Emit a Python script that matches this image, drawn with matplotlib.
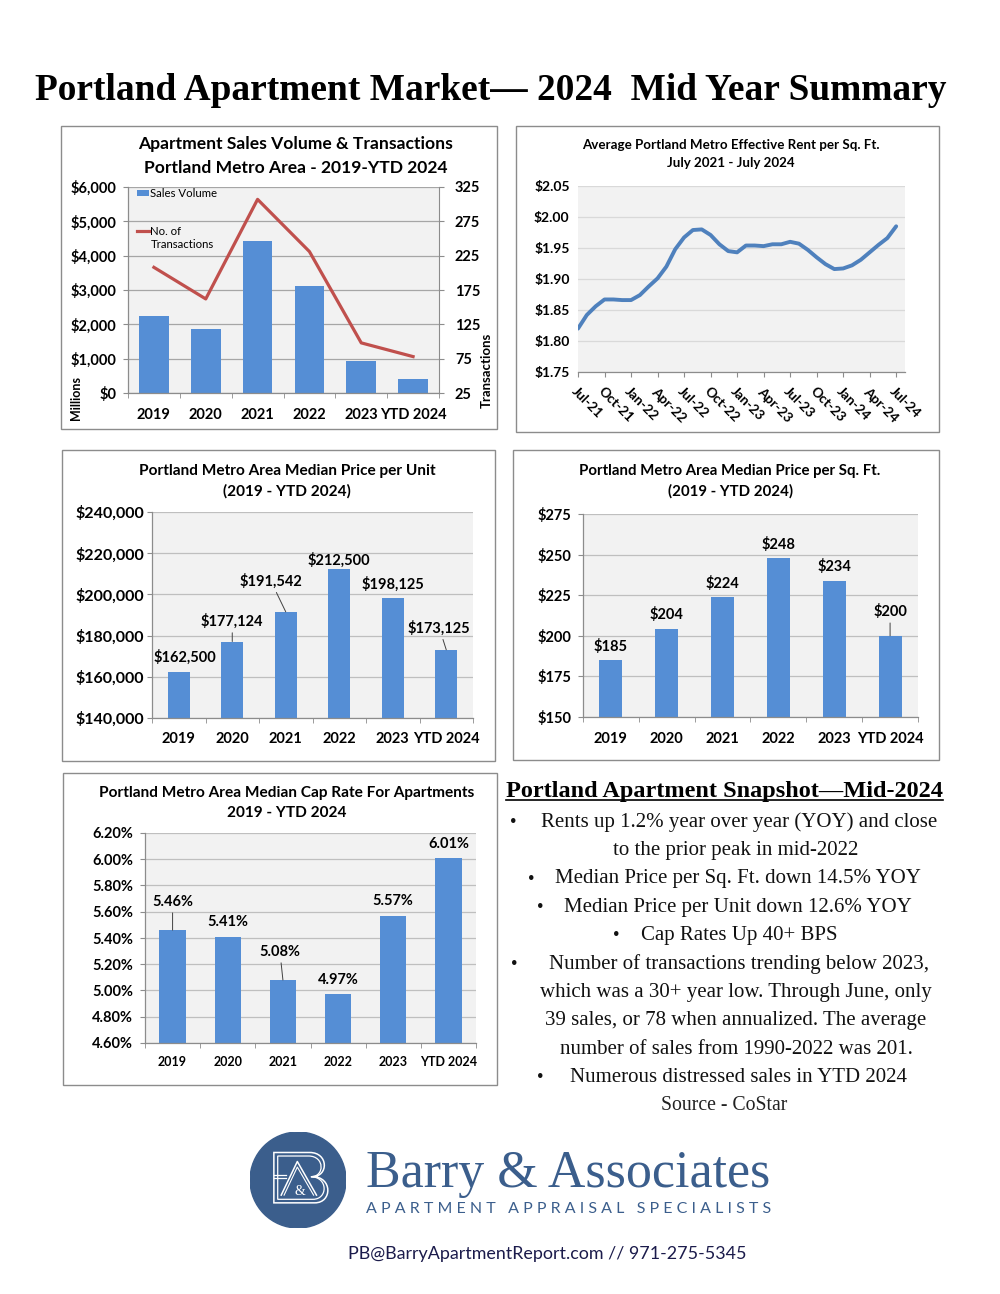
import numpy as np
import matplotlib
matplotlib.use('Agg')
import matplotlib.pyplot as plt
from matplotlib.patches import Rectangle, Circle, PathPatch
from matplotlib.path import Path
from matplotlib.lines import Line2D
from matplotlib.ticker import FuncFormatter
import matplotlib.transforms as mtransforms

# ---------------- data ----------------
years = ['2019', '2020', '2021', '2022', '2023', 'YTD 2024']
sales_volume_millions = [2250, 1855, 4420, 3125, 945, 400]
transactions = [208, 162, 307, 231, 98, 78]

rent_tick_labels = ['Jul-21', 'Oct-21', 'Jan-22', 'Apr-22', 'Jul-22', 'Oct-22', 'Jan-23',
                    'Apr-23', 'Jul-23', 'Oct-23', 'Jan-24', 'Apr-24', 'Jul-24']
rent_per_sqft = [1.820, 1.842, 1.856, 1.867, 1.867, 1.866, 1.866, 1.874, 1.888, 1.901,
                 1.920, 1.948, 1.967, 1.979, 1.980, 1.971, 1.956, 1.945, 1.943, 1.954,
                 1.954, 1.953, 1.956, 1.956, 1.960, 1.957, 1.947, 1.935, 1.924, 1.916,
                 1.917, 1.922, 1.931, 1.943, 1.955, 1.966, 1.985]

price_per_unit = [162500, 177124, 191542, 212500, 198125, 173125]
price_per_sqft = [185, 204, 224, 248, 234, 200]
cap_rate = [5.46, 5.41, 5.08, 4.97, 5.57, 6.01]

snapshot_lines = [
    (True, "Rents up 1.2% year over year (YOY) and close"),
    (False, "to the prior peak in mid-2022"),
    (True, "Median Price per Sq. Ft. down 14.5% YOY"),
    (True, "Median Price per Unit down 12.6% YOY"),
    (True, "Cap Rates Up 40+ BPS"),
    (True, "Number of transactions trending below 2023,"),
    (False, "which was a 30+ year low. Through June, only"),
    (False, "39 sales, or 78 when annualized. The average"),
    (False, "number of sales from 1990-2022 was 201."),
    (True, "Numerous distressed sales in YTD 2024"),
]

# ---------------- setup ----------------
W, H = 1000, 1294
fig = plt.figure(figsize=(W / 100, H / 100), dpi=100)
fig.patch.set_facecolor('white')
SANS = ['Lato', 'DejaVu Sans']
SERIF = ['Liberation Serif', 'DejaVu Serif']
plt.rcParams['font.family'] = SANS

AXC = '#8c8c8c'
BG = '#f2f2f2'
BLUE = '#558ed5'
RED = '#c0504d'
LBLUE = '#4f81bd'
NAVY = '#3b5e8c'
PX = 100 / 72.0


def rect(x0, y0, x1, y1):
    return [x0 / W, 1 - y1 / H, (x1 - x0) / W, (y1 - y0) / H]


def ftext(x, y, s, **kw):
    return fig.text(x / W, 1 - y / H, s, **kw)


renderer = fig.canvas.get_renderer()


def fit(t, target):
    w = t.get_window_extent(renderer).width
    t.set_fontsize(t.get_fontsize() * target / w)
    return t.get_fontsize()


# panel frames
for (x0, y0, x1, y1) in [(61, 126, 497, 429), (516, 126, 939, 432), (62, 450, 495, 761),
                         (513, 450, 939, 760), (63, 773, 497, 1085)]:
    fig.add_artist(Rectangle((x0 / W, 1 - y1 / H), (x1 - x0) / W, (y1 - y0) / H,
                             transform=fig.transFigure, fill=False, edgecolor=AXC, lw=1.0))


def base_ax(r, grid='#bfbfbf'):
    ax = fig.add_axes(r)
    ax.set_facecolor(BG)
    for s in ['top', 'right']:
        ax.spines[s].set_visible(False)
    for s in ['left', 'bottom']:
        ax.spines[s].set_color(AXC)
        ax.spines[s].set_linewidth(0.9)
    ax.set_axisbelow(True)
    ax.yaxis.grid(True, color=grid, lw=0.9)
    ax.tick_params(axis='y', length=3.5, color=AXC, pad=2)
    return ax


def cat_axis(ax, n, labels, fs, pad):
    ax.set_xlim(-0.5, n - 0.5)
    ax.set_xticks(range(n))
    ax.set_xticklabels(labels, fontsize=fs, fontweight='bold')
    ax.tick_params(axis='x', which='major', length=0, pad=pad)
    ax.set_xticks(np.arange(-0.5, n), minor=True)
    ax.tick_params(axis='x', which='minor', length=3.6, direction='out', color=AXC)


def chart_title(cx, y1, y2, l1, l2, w1):
    t1 = ftext(cx, y1, l1, ha='center', va='center', fontweight='bold', fontsize=10)
    fs = fit(t1, w1)
    ftext(cx, y2, l2, ha='center', va='center', fontweight='bold', fontsize=fs)


def bar_labels(ax, vals, texts, offsets, leaders, fs):
    for i, (v, s, (dx, dy)) in enumerate(zip(vals, texts, offsets)):
        kw = {}
        if i in leaders:
            kw['arrowprops'] = dict(arrowstyle='-', color='#404040', lw=0.7, shrinkA=1, shrinkB=0)
        ax.annotate(s, xy=(i, v), xytext=(dx / PX, dy / PX), textcoords='offset points',
                    ha='center', va='center', fontsize=fs, fontweight='bold', **kw)


n = len(years)
xs = np.arange(n)

# ---------------- chart 1: sales volume & transactions ----------------
chart_title(296, 144, 168, 'Apartment Sales Volume & Transactions',
            'Portland Metro Area - 2019-YTD 2024', 314)
ax1 = base_ax(rect(128, 187, 439, 393), grid='#a6a6a6')
bars1 = ax1.bar(xs, sales_volume_millions, width=0.57, color=BLUE, zorder=2)
ax1.set_ylim(0, 6000)
ax1.set_yticks(range(0, 6001, 1000))
ax1.yaxis.set_major_formatter(FuncFormatter(lambda v, p: f'${int(v):,}'))
for lb in ax1.get_yticklabels():
    lb.set_fontweight('bold'); lb.set_fontsize(10.5)
ax1.tick_params(axis='y', pad=5)
cat_axis(ax1, n, years, 10.5, 11)
ax1b = ax1.twinx()
line1, = ax1b.plot(xs, transactions, color=RED, lw=2.3, zorder=3)
ax1b.set_ylim(25, 325)
ax1b.set_yticks(range(25, 326, 50))
for s in ['top', 'left', 'bottom']:
    ax1b.spines[s].set_visible(False)
ax1b.spines['right'].set_color(AXC)
ax1b.tick_params(axis='y', length=3.5, color=AXC, pad=8, labelsize=10.5)
for lb in ax1b.get_yticklabels():
    lb.set_fontweight('bold')
leg1 = ax1b.legend([bars1], ['Sales Volume'], loc='upper left', bbox_to_anchor=(0.03, 0.995),
                   frameon=False, fontsize=8.2, handlelength=1.0, handleheight=0.55,
                   handletextpad=0.15, borderaxespad=0, borderpad=0)
ax1b.add_artist(leg1)
ax1b.legend([line1, Line2D([], [], color='none')], ['No. of', 'Transactions'], loc='upper left',
            bbox_to_anchor=(0.03, 0.81), frameon=False, fontsize=8.2, handlelength=1.0,
            handletextpad=0.15, borderaxespad=0, borderpad=0, labelspacing=0.2)
ftext(76, 398, 'Millions', rotation=90, ha='center', va='center', fontweight='bold', fontsize=9)
ftext(487, 370, 'Transactions', rotation=90, ha='center', va='center', fontweight='bold', fontsize=9.5)

# ---------------- chart 2: rent per sq ft ----------------
chart_title(731, 145, 163, 'Average Portland Metro Effective Rent per Sq. Ft.',
            'July 2021 - July 2024', 298)
ax2 = base_ax(rect(578, 186, 905, 372), grid='#d9d9d9')
months = np.arange(len(rent_per_sqft))
ax2.plot(months, rent_per_sqft, color=LBLUE, lw=2.8, solid_capstyle='round', solid_joinstyle='round')
ax2.set_xlim(0, 37)
ax2.set_ylim(1.75, 2.05)
ax2.set_yticks(np.arange(1.75, 2.051, 0.05))
ax2.yaxis.set_major_formatter(FuncFormatter(lambda v, p: f'${v:.2f}'))
for lb in ax2.get_yticklabels():
    lb.set_fontweight('bold'); lb.set_fontsize(10)
ax2.tick_params(axis='y', length=0, pad=6)
ax2.set_xticks(months[::3])
ax2.set_xticklabels(rent_tick_labels, rotation=-45, ha='left', va='top',
                    rotation_mode='anchor', fontsize=9.8, fontweight='bold')
ax2.tick_params(axis='x', length=3.6, color=AXC, pad=6)
ax2.spines['left'].set_visible(False)

# ---------------- chart 3: price per unit ----------------
chart_title(287, 471, 491, 'Portland Metro Area Median Price per Unit', '(2019 - YTD 2024)', 297)
ax3 = base_ax(rect(152, 512, 473, 718))
ax3.bar(xs, price_per_unit, width=0.405, color=BLUE, zorder=2)
ax3.set_ylim(140000, 240000)
ax3.set_yticks(range(140000, 240001, 20000))
ax3.yaxis.set_major_formatter(FuncFormatter(lambda v, p: f'${int(v):,}'))
for lb in ax3.get_yticklabels():
    lb.set_fontweight('bold'); lb.set_fontsize(11.5)
cat_axis(ax3, n, years, 10.5, 10)
bar_labels(ax3, price_per_unit, [f'${v:,}' for v in price_per_unit],
           [(6, 14.6), (0, 20.5), (-15, 31), (0, 8), (0, 14), (-7, 22)], {1, 2, 5}, 10.5)

# ---------------- chart 4: price per sq ft ----------------
chart_title(730, 471, 491, 'Portland Metro Area Median Price per Sq. Ft.', '(2019 - YTD 2024)', 303)
ax4 = base_ax(rect(583, 514, 918, 717))
ax4.bar(xs, price_per_sqft, width=0.41, color=BLUE, zorder=2)
ax4.set_ylim(150, 275)
ax4.set_yticks(range(150, 276, 25))
ax4.yaxis.set_major_formatter(FuncFormatter(lambda v, p: f'${int(v)}'))
for lb in ax4.get_yticklabels():
    lb.set_fontweight('bold'); lb.set_fontsize(10.5)
ax4.tick_params(axis='y', pad=5)
cat_axis(ax4, n, years, 10.5, 10.5)
bar_labels(ax4, price_per_sqft, [f'${v}' for v in price_per_sqft],
           [(0, 14), (0, 14.6), (0, 13), (0, 13), (0, 13.6), (0, 24.5)], {5}, 10.5)

# ---------------- chart 5: cap rate ----------------
chart_title(287, 793, 813, 'Portland Metro Area Median Cap Rate For Apartments', '2019 - YTD 2024', 377)
ax5 = base_ax(rect(145, 833, 476, 1043))
ax5.bar(xs, cap_rate, width=0.48, color=BLUE, zorder=2)
ax5.set_ylim(4.6, 6.2)
ax5.set_yticks(np.arange(4.6, 6.201, 0.2))
ax5.yaxis.set_major_formatter(FuncFormatter(lambda v, p: f'{v:.2f}%'))
for lb in ax5.get_yticklabels():
    lb.set_fontweight('bold'); lb.set_fontsize(10.5)
ax5.tick_params(axis='y', pad=5)
cat_axis(ax5, n, years, 9, 9)
bar_labels(ax5, cap_rate, [f'{v:.2f}%' for v in cap_rate],
           [(0, 28.4), (0, 15), (-3, 28.3), (0, 14.4), (0, 14.7), (0, 14)], {0, 2}, 10.5)

# ---------------- main title ----------------
t = ftext(491, 100, 'Portland Apartment Market\u2014 2024  Mid Year Summary', ha='center',
          va='baseline', family=SERIF, fontweight='bold', fontsize=26)
fit(t, 912)

# ---------------- snapshot text ----------------
hd = ftext(724.5, 796.5, 'Portland Apartment Snapshot\u2014Mid-2024', ha='center', va='baseline',
           family=SERIF, fontweight='bold', fontsize=15)
fit(hd, 437)
fig.add_artist(Line2D([506 / W, 943 / W], [1 - 800 / H, 1 - 800 / H], transform=fig.transFigure,
                      color='black', lw=1.2))

line_cx = [738.7, 736, 738.3, 738.3, 738.8, 739, 736, 736, 736.3, 738.3]
bullet_x = [513, None, 531.7, 540, 616.7, 514, None, None, None, 540]
line_w = 397
fs_body = None
for k, ((bul, s), cx, bx) in enumerate(zip(snapshot_lines, line_cx, bullet_x)):
    yb = 826.7 + 28.4 * k
    tt = ftext(cx, yb, s, ha='center', va='baseline', family=SERIF, fontsize=15, color='#111111')
    if fs_body is None:
        fs_body = fit(tt, line_w)
    else:
        tt.set_fontsize(fs_body)
    if bul:
        ftext(bx, yb, '\u2022', ha='center', va='baseline', family=SERIF, fontsize=fs_body * 0.9,
              color='#111111')
src = ftext(724, 1110, 'Source - CoStar', ha='center', va='baseline', family=SERIF, fontsize=12,
            color='#222222')
fit(src, 126)

# ---------------- logo ----------------
lax = fig.add_axes(rect(250, 1132, 346, 1228))
lax.set_xlim(-1, 1); lax.set_ylim(-1, 1); lax.set_aspect('equal'); lax.axis('off')
lax.add_patch(Circle((0, 0), 1, color=NAVY))
b_verts = [(-0.503, 0.573), (0.245, 0.573),
           (0.64, 0.573), (0.64, 0.07), (0.30, 0.07),
           (0.72, 0.07), (0.72, -0.476), (0.35, -0.476),
           (-0.503, -0.476), (-0.503, 0.573)]
b_codes = [Path.MOVETO, Path.LINETO, Path.CURVE4, Path.CURVE4, Path.CURVE4,
           Path.CURVE4, Path.CURVE4, Path.CURVE4, Path.LINETO, Path.CLOSEPOLY]
b_path = Path(b_verts, b_codes)
lax.add_patch(PathPatch(b_path, facecolor='none', edgecolor='white', lw=1.1))
inner_tr = mtransforms.Affine2D().translate(-0.07, -0.05).scale(0.86).translate(0.07, 0.05)
lax.add_patch(PathPatch(inner_tr.transform_path(b_path), facecolor='none', edgecolor='white', lw=0.9))
lax.plot([-0.503, -0.245], [0.10, 0.10], color='white', lw=0.9)
lax.plot([-0.503, -0.245], [0.04, 0.04], color='white', lw=0.9)
lax.plot([-0.35, -0.014, 0.385], [-0.315, 0.385, -0.315], color='white', lw=1.1)
lax.plot([-0.29, -0.014, 0.325], [-0.315, 0.27, -0.315], color='white', lw=0.8)
lax.text(0.035, -0.245, '&', ha='center', va='center', fontsize=10, family=SERIF, color='white')

ba = ftext(366, 1187, 'Barry & Associates', ha='left', va='baseline', family=SERIF,
           fontsize=34, color=NAVY)
fit(ba, 405)
sp = ftext(366, 1213, '   '.join(' '.join(w) for w in 'APARTMENT APPRAISAL SPECIALISTS'.split()),
           ha='left', va='baseline', fontsize=9, color=NAVY)
fit(sp, 406)
em = ftext(547, 1259, 'PB@BarryApartmentReport.com // 971-275-5345', ha='center', va='baseline',
           fontsize=12, color='#1b1b4b')
fit(em, 396)

fig.savefig('out.png', dpi=100, facecolor='white')
